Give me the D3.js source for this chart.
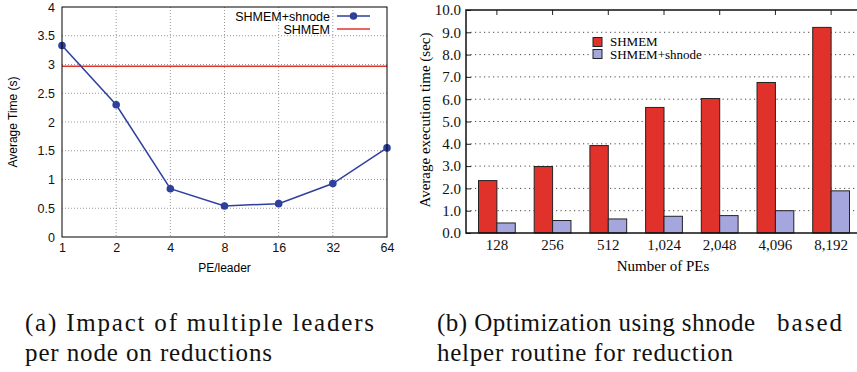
<!DOCTYPE html>
<html>
<head>
<meta charset="utf-8">
<script src="https://cdn.jsdelivr.net/npm/d3@7"></script>
<style>
  body { margin: 0; background: #fff; }
  svg { display: block; }
  .sans { font-family: "Liberation Sans", Arial, sans-serif; }
  .serif { font-family: "Liberation Serif", "Times New Roman", serif; }
</style>
</head>
<body>
<svg id="fig" width="857" height="372"></svg>
<script>
// left chart: time vs PE/leader
const leaderLabels = ['1', '2', '4', '8', '16', '32', '64'];
const shnodeTimes = [3.33, 2.30, 0.84, 0.54, 0.58, 0.93, 1.55];
const shmemTime = 2.97;
const leftYTicks = [0, 0.5, 1, 1.5, 2, 2.5, 3, 3.5, 4];

// right chart: execution time vs number of PEs
const peLabels = ['128', '256', '512', '1,024', '2,048', '4,096', '8,192'];
const shmemExec = [2.35, 2.98, 3.92, 5.63, 6.03, 6.75, 9.22];
const shnodeExec = [0.45, 0.56, 0.63, 0.75, 0.78, 1.00, 1.89];
const rightYTicks = [0, 1, 2, 3, 4, 5, 6, 7, 8, 9, 10];

const blue = '#2e3f9e';
const red = '#e3332a';
const barRed = '#e0322a';
const barBlue = '#a6a6de';

const svg = d3.select('#fig');

drawLeft();
drawRight();
drawCaptions();

function drawLeft()
{
    const L = 62, R = 387, T = 7, B = 237;
    const x = d3.scalePoint().domain(leaderLabels).range([L, R]);
    const y = d3.scaleLinear().domain([0, 4]).range([B, T]);
    const g = svg.append('g').attr('class', 'sans');

    // grid
    g.append('g').selectAll('line.h')
        .data(leftYTicks.slice(1, -1))
        .join('line')
            .attr('x1', L).attr('x2', R)
            .attr('y1', d => y(d)).attr('y2', d => y(d))
            .style('stroke', '#999').style('stroke-dasharray', '1,2');
    g.append('g').selectAll('line.v')
        .data(leaderLabels.slice(1, -1))
        .join('line')
            .attr('x1', d => x(d)).attr('x2', d => x(d))
            .attr('y1', T).attr('y2', B)
            .style('stroke', '#999').style('stroke-dasharray', '1,2');

    // axes labels via d3 axes, no tick lines
    const yAxis = g.append('g')
        .attr('transform', `translate(${L},0)`)
        .call(d3.axisLeft(y).tickValues(leftYTicks).tickSize(0).tickPadding(7).tickFormat(d3.format('~g')));
    const xAxis = g.append('g')
        .attr('transform', `translate(0,${B})`)
        .call(d3.axisBottom(x).tickSize(0).tickPadding(6));
    [yAxis, xAxis].forEach(a => {
        a.select('.domain').remove();
        a.selectAll('text').style('font-size', '12.5px').style('fill', '#111')
            .style('font-family', '"Liberation Sans", Arial, sans-serif');
    });

    // SHMEM constant line
    g.append('line')
        .attr('x1', L).attr('x2', R)
        .attr('y1', y(shmemTime)).attr('y2', y(shmemTime))
        .style('stroke', red).style('stroke-width', 1.6);

    // SHMEM+shnode line
    const line = d3.line().x((d, i) => x(leaderLabels[i])).y(d => y(d));
    g.append('path')
        .datum(shnodeTimes)
        .attr('d', line)
        .style('fill', 'none').style('stroke', blue).style('stroke-width', 1.5);
    g.append('g').selectAll('circle')
        .data(shnodeTimes)
        .join('circle')
            .attr('cx', (d, i) => x(leaderLabels[i]))
            .attr('cy', d => y(d))
            .attr('r', 3.8)
            .style('fill', blue);

    // border
    g.append('rect')
        .attr('x', L).attr('y', T).attr('width', R - L).attr('height', B - T)
        .style('fill', 'none').style('stroke', '#000').style('stroke-width', 1);

    // legend
    const leg = g.append('g').style('font-size', '12.5px');
    leg.append('text').attr('x', 330).attr('y', 20.5).attr('text-anchor', 'end').text('SHMEM+shnode');
    leg.append('line').attr('x1', 337).attr('x2', 370).attr('y1', 16).attr('y2', 16)
        .style('stroke', blue).style('stroke-width', 1.5);
    leg.append('circle').attr('cx', 353.5).attr('cy', 16).attr('r', 3.8).style('fill', blue);
    leg.append('text').attr('x', 330).attr('y', 33.5).attr('text-anchor', 'end').text('SHMEM');
    leg.append('line').attr('x1', 337).attr('x2', 370).attr('y1', 29).attr('y2', 29)
        .style('stroke', red).style('stroke-width', 1.6);

    // axis titles
    g.append('text')
        .attr('x', (L + R) / 2).attr('y', 272)
        .attr('text-anchor', 'middle').style('font-size', '12px')
        .text('PE/leader');
    g.append('text')
        .attr('transform', `translate(17,122) rotate(-90)`)
        .attr('text-anchor', 'middle').style('font-size', '12px')
        .text('Average Time (s)');
}

function drawRight()
{
    const L = 466, R = 857, T = 10, B = 233;
    const x = d3.scaleBand().domain(peLabels).range([478.5, 849.5]).paddingInner(0.34).paddingOuter(0);
    const y = d3.scaleLinear().domain([0, 10]).range([B, T]);
    const bw = x.bandwidth() / 2;
    const g = svg.append('g').attr('class', 'serif');

    // dotted grid
    g.append('g').selectAll('line')
        .data(rightYTicks.slice(1, -1))
        .join('line')
            .attr('x1', L).attr('x2', R)
            .attr('y1', d => y(d)).attr('y2', d => y(d))
            .style('stroke', '#333').style('stroke-width', 0.9).style('stroke-dasharray', '1.2,3.3');

    // legend background breaks the grid line
    g.append('rect').attr('x', 590).attr('y', 35).attr('width', 114).attr('height', 25).style('fill', '#fff');

    // bars
    g.append('g').selectAll('rect')
        .data(shmemExec)
        .join('rect')
            .attr('x', (d, i) => x(peLabels[i]))
            .attr('y', d => y(d))
            .attr('width', bw)
            .attr('height', d => B - y(d))
            .style('fill', barRed).style('stroke', '#222').style('stroke-width', 1);
    g.append('g').selectAll('rect')
        .data(shnodeExec)
        .join('rect')
            .attr('x', (d, i) => x(peLabels[i]) + bw)
            .attr('y', d => y(d))
            .attr('width', bw)
            .attr('height', d => B - y(d))
            .style('fill', barBlue).style('stroke', '#222').style('stroke-width', 1);

    // axes
    const yAxis = g.append('g')
        .attr('transform', `translate(${L},0)`)
        .call(d3.axisRight(y).tickValues(rightYTicks).tickSize(5).tickFormat(d3.format('.1f')));
    yAxis.selectAll('text').attr('x', -5).attr('text-anchor', 'end');
    const xAxis = g.append('g')
        .attr('transform', `translate(0,${B})`)
        .call(d3.axisBottom(x).tickSize(0).tickPadding(6));
    const topAxis = g.append('g')
        .attr('transform', `translate(0,${T})`)
        .call(d3.axisBottom(x).tickSize(5).tickFormat(''));
    [yAxis, xAxis, topAxis].forEach(a => {
        a.select('.domain').remove();
        a.selectAll('line').style('stroke', '#222');
        a.selectAll('text').style('font-size', '15px').style('fill', '#111')
            .style('font-family', '"Liberation Serif", "Times New Roman", serif');
    });

    // frame lines
    g.append('path')
        .attr('d', `M${R},${T}H${L}V${B}H${R}`)
        .style('fill', 'none').style('stroke', '#111').style('stroke-width', 1.5);

    // legend
    const leg = g.append('g').style('font-size', '13px');
    leg.append('rect').attr('x', 593).attr('y', 37.5).attr('width', 9).attr('height', 9)
        .style('fill', barRed).style('stroke', '#222');
    leg.append('text').attr('x', 610).attr('y', 45.5).text('SHMEM');
    leg.append('rect').attr('x', 593).attr('y', 49.5).attr('width', 9).attr('height', 9)
        .style('fill', barBlue).style('stroke', '#222');
    leg.append('text').attr('x', 610).attr('y', 58.5).text('SHMEM+shnode');

    // axis titles
    g.append('text')
        .attr('x', 663).attr('y', 271)
        .attr('text-anchor', 'middle').style('font-size', '15px')
        .text('Number of PEs');
    g.append('text')
        .attr('transform', `translate(430,120) rotate(-90)`)
        .attr('text-anchor', 'middle').style('font-size', '15px')
        .text('Average execution time (sec)');
}

function drawCaptions()
{
    const g = svg.append('g');
    const lines = [
        { x: 25, y: 331, w: 349, t: '(a) Impact of multiple leaders' },
        { x: 25, y: 361, w: 247, t: 'per node on reductions' },
        { x: 437, y: 331, w: 318, t: '(b) Optimization using shnode' },
        { x: 777, y: 331, w: 65, t: 'based' },
        { x: 437, y: 361, w: 296, t: 'helper routine for reduction' }
    ];
    g.selectAll('text')
        .data(lines)
        .join('text')
            .attr('x', d => d.x).attr('y', d => d.y)
            .attr('textLength', d => d.w)
            .attr('lengthAdjust', 'spacing')
            .style('font-family', '"Liberation Serif", "Times New Roman", serif')
            .style('font-size', '25px')
            .style('fill', '#111')
            .text(d => d.t);
}
</script>
</body>
</html>
